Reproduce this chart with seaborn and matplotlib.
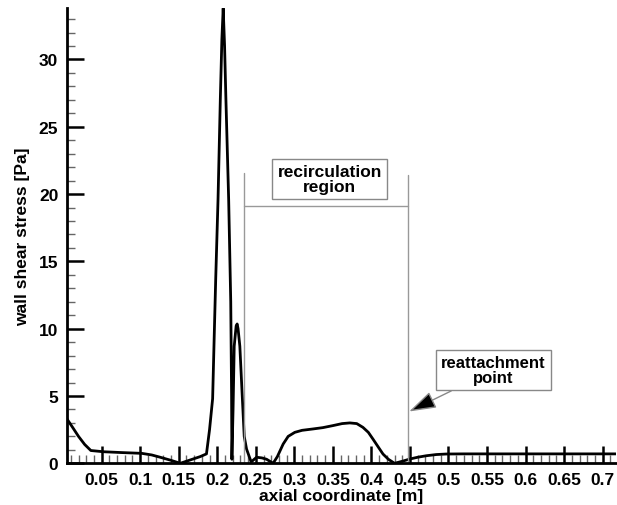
import matplotlib
matplotlib.use('Agg')
import numpy as np
import pandas as pd
import seaborn as sns
import matplotlib.pyplot as plt
from matplotlib.ticker import MultipleLocator, FixedLocator

# wall shear stress along the axis
axial_pos = [0.005, 0.012, 0.02, 0.028, 0.036, 0.045, 0.052, 0.075, 0.102, 0.115,
             0.126, 0.14, 0.152, 0.165, 0.178, 0.186, 0.19, 0.194, 0.196, 0.198,
             0.201, 0.204, 0.206, 0.2077, 0.2095, 0.2112, 0.2148, 0.2175, 0.2186, 0.219,
             0.2205, 0.222, 0.2245, 0.2258, 0.227, 0.2293, 0.232, 0.235, 0.238, 0.244,
             0.251, 0.258, 0.264, 0.2725, 0.278, 0.2855, 0.292, 0.3006, 0.31, 0.324,
             0.337, 0.35, 0.362, 0.372, 0.381, 0.389, 0.396, 0.402, 0.409, 0.415,
             0.422, 0.430, 0.44, 0.45, 0.46, 0.471, 0.484, 0.497, 0.52, 0.6, 0.72]
shear = [3.3, 2.7, 2.0, 1.4, 0.95, 0.9, 0.86, 0.8, 0.74, 0.62,
         0.45, 0.22, 0.0, 0.25, 0.5, 0.7, 2.5, 4.8, 9.3, 13.7,
         19.6, 27.1, 31.5, 33.8, 31.0, 27.1, 19.6, 12.0, 5.0, 0.3,
         4.0, 8.7, 10.2, 10.35, 10.0, 8.7, 5.5, 2.0, 1.06, 0.1,
         0.45, 0.4, 0.3, 0.0, 0.5, 1.43, 2.0, 2.3, 2.45, 2.55,
         2.65, 2.8, 2.95, 3.0, 2.95, 2.67, 2.3, 1.8, 1.2, 0.69,
         0.3, 0.0, 0.15, 0.32, 0.45, 0.56, 0.65, 0.69, 0.7, 0.7, 0.7]

x_ticks = [0.05, 0.1, 0.15, 0.2, 0.25, 0.3, 0.35, 0.4, 0.45, 0.5, 0.55, 0.6, 0.65, 0.7]
x_tick_labels = ['0.05', '0.1', '0.15', '0.2', '0.25', '0.3', '0.35', '0.4', '0.45',
                 '0.5', '0.55', '0.6', '0.65', '0.7']
y_ticks = [0, 5, 10, 15, 20, 25, 30]

recirc_start = 0.235
recirc_end = 0.4475

sns.set_style('white')
plt.rcParams['font.family'] = ['Liberation Sans', 'DejaVu Sans']
plt.rcParams['font.weight'] = 'bold'
plt.rcParams['text.color'] = 'black'
plt.rcParams['axes.labelcolor'] = 'black'

fig = plt.figure(figsize=(6.17, 5.06), dpi=100)
ax = fig.add_axes([0.108, 0.0824, 0.890, 0.8992])

df = pd.DataFrame({'x': axial_pos, 'y': shear})
sns.lineplot(data=df, x='x', y='y', sort=False, estimator=None, color='black',
             linewidth=2, ax=ax)

ax.set_xlim(0.0046, 0.717)
ax.set_ylim(0, 33.8)

ax.xaxis.set_major_locator(FixedLocator(x_ticks))
ax.set_xticklabels(x_tick_labels)
ax.xaxis.set_minor_locator(MultipleLocator(0.01))
ax.yaxis.set_major_locator(FixedLocator(y_ticks))
ax.yaxis.set_minor_locator(MultipleLocator(1))
ax.tick_params(which='both', bottom=True, left=True, top=False, right=False)
ax.tick_params(which='major', direction='in', length=12, width=1.8, labelsize=12.5,
               pad=6, colors='black')
ax.tick_params(which='minor', direction='in', length=6, width=1, colors='#666666')
for lab in ax.get_xticklabels() + ax.get_yticklabels():
    lab.set_fontweight('bold')

for side in ['top', 'right']:
    ax.spines[side].set_visible(False)
for side in ['left', 'bottom']:
    ax.spines[side].set_linewidth(2)
    ax.spines[side].set_color('black')

ax.set_xlabel('axial coordinate [m]', fontsize=12.5, fontweight='bold', labelpad=1)
ax.set_ylabel('wall shear stress [Pa]', fontsize=12.5, fontweight='bold', labelpad=6)

# recirculation bracket
ax.plot([recirc_start, recirc_start], [0, 21.6], color='#999999', linewidth=1)
ax.plot([recirc_end, recirc_end], [0, 21.4], color='#999999', linewidth=1)
ax.plot([recirc_start, recirc_end], [19.1, 19.1], color='#999999', linewidth=1)
ax.text(0.346, 21.1, 'recirculation\nregion', ha='center', va='center', fontsize=12.5,
        fontweight='bold', linespacing=1.0,
        bbox=dict(boxstyle='square,pad=0.3', fc='white', ec='#888888', lw=1))

ax.annotate('reattachment\npoint', xy=(0.449, 3.85), xytext=(0.558, 6.9),
            ha='center', va='center', fontsize=12, fontweight='bold', linespacing=1.0,
            bbox=dict(boxstyle='square,pad=0.3', fc='white', ec='#888888', lw=1),
            arrowprops=dict(arrowstyle='-|>,head_length=1.4,head_width=0.45',
                            ec='#888888', fc='black', lw=1, shrinkA=0, shrinkB=0))

plt.savefig('out.png', dpi=100)
plt.close()
